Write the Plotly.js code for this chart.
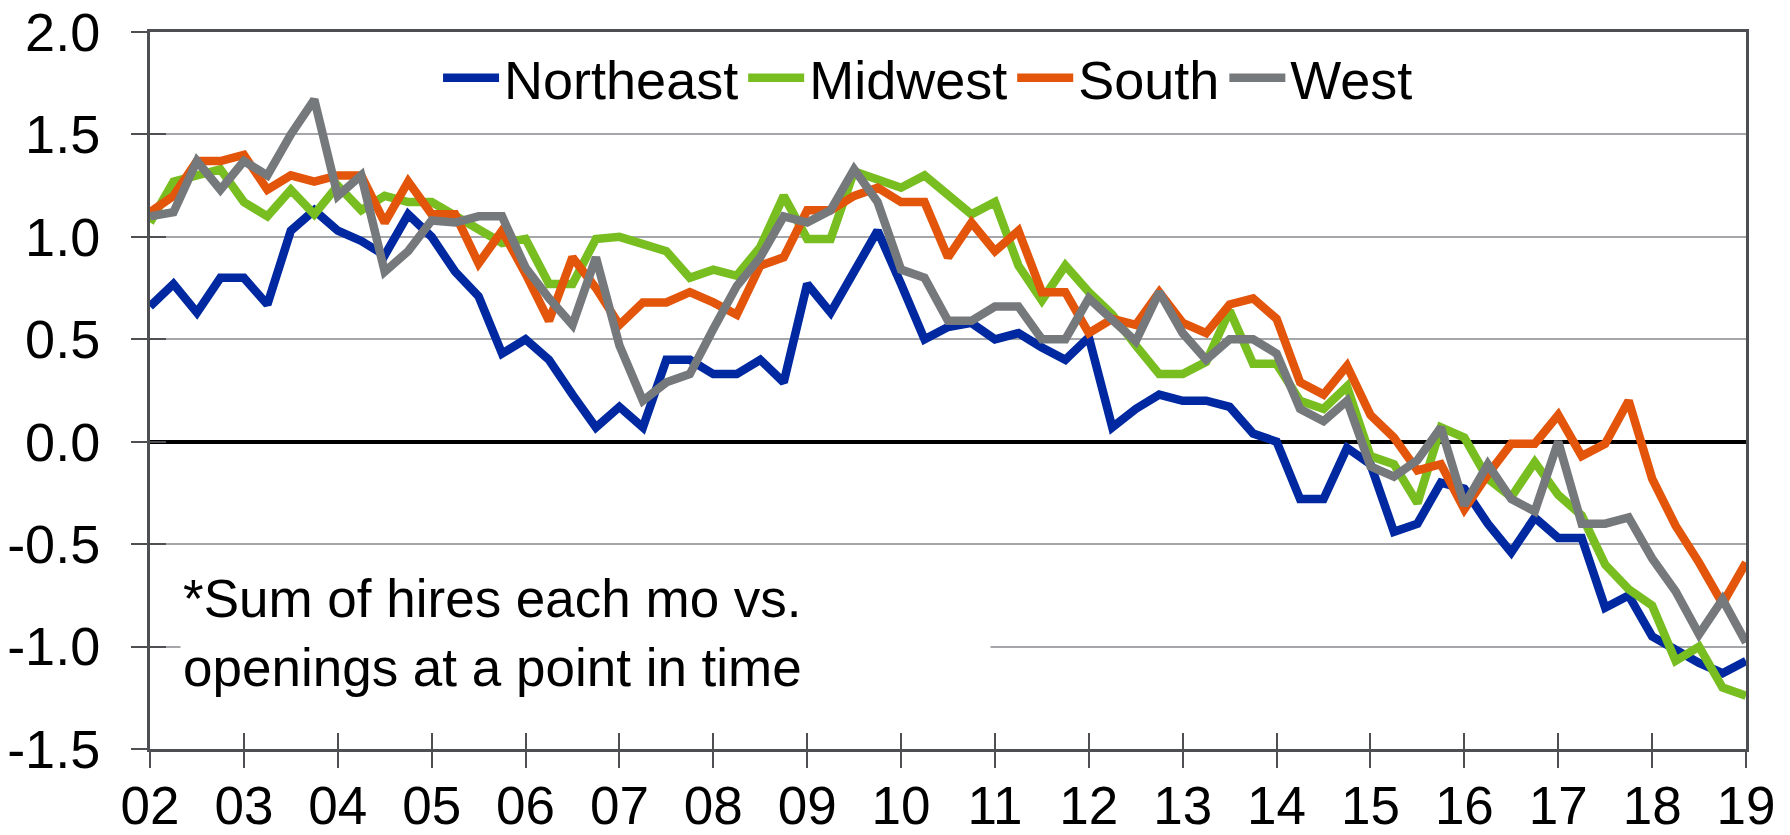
<!DOCTYPE html>
<html>
<head>
<meta charset="utf-8">
<script src="https://cdn.plot.ly/plotly-3.0.1.min.js"></script>
<style>
  html, body { margin: 0; padding: 0; background: #fff; }
  #chart { width: 1790px; height: 835px; }
</style>
</head>
<body>
<div id="chart"></div>
<script>
// Quarterly observations, 2002 Q1 through 2019 Q1
const startYear = 2002;
const endYear = 2019;

const yearTickLabels = ["02","03","04","05","06","07","08","09","10","11","12","13","14","15","16","17","18","19"];
const yTickValues = [2.0, 1.5, 1.0, 0.5, 0.0, -0.5, -1.0, -1.5];
const yTickLabels = ["2.0", "1.5", "1.0", "0.5", "0.0", "-0.5", "-1.0", "-1.5"];

const seriesNames = ["Northeast", "Midwest", "South", "West"];
const seriesColors = ["#0028A0", "#78BE21", "#E3550A", "#76797C"];

const northeast = [0.66,0.77,0.63,0.80,0.80,0.67,1.03,1.13,1.03,0.98,
                   0.91,1.11,1.00,0.83,0.71,0.43,0.50,0.40,0.23,0.07,
                   0.17,0.07,0.40,0.40,0.33,0.33,0.40,0.29,0.77,0.63,
                   0.83,1.03,0.77,0.50,0.56,0.58,0.50,0.53,0.46,0.40,
                   0.51,0.07,0.16,0.23,0.20,0.20,0.17,0.04,0.00,-0.28,
                   -0.28,-0.03,-0.11,-0.44,-0.40,-0.20,-0.23,-0.40,-0.54,-0.37,
                   -0.47,-0.47,-0.81,-0.75,-0.95,-1.02,-1.08,-1.13,-1.07];

const midwest = [1.07,1.27,1.30,1.33,1.17,1.10,1.23,1.11,1.25,1.13,
                 1.20,1.17,1.17,1.10,1.04,0.97,0.99,0.77,0.77,0.99,
                 1.00,0.97,0.93,0.80,0.84,0.81,0.95,1.20,0.99,0.99,
                 1.32,1.28,1.24,1.30,1.21,1.11,1.17,0.86,0.69,0.86,
                 0.73,0.62,0.47,0.33,0.33,0.39,0.64,0.38,0.38,0.20,
                 0.16,0.27,-0.07,-0.11,-0.30,0.07,0.02,-0.18,-0.27,-0.10,
                 -0.26,-0.36,-0.60,-0.72,-0.80,-1.07,-1.00,-1.20,-1.24];

const south = [1.12,1.20,1.37,1.37,1.40,1.23,1.30,1.27,1.30,1.30,
               1.07,1.27,1.11,1.11,0.87,1.03,0.82,0.59,0.90,0.75,
               0.57,0.68,0.68,0.73,0.68,0.62,0.86,0.90,1.13,1.13,
               1.20,1.24,1.17,1.17,0.90,1.07,0.93,1.03,0.73,0.73,
               0.53,0.60,0.57,0.73,0.58,0.53,0.67,0.70,0.60,0.29,
               0.23,0.37,0.13,0.02,-0.14,-0.11,-0.33,-0.16,-0.01,-0.01,
               0.13,-0.07,-0.01,0.20,-0.18,-0.41,-0.59,-0.79,-0.59];

const west = [1.10,1.12,1.37,1.23,1.37,1.30,1.50,1.67,1.20,1.30,
              0.83,0.93,1.08,1.07,1.10,1.10,0.85,0.70,0.57,0.90,
              0.47,0.20,0.29,0.33,0.55,0.76,0.90,1.10,1.07,1.13,
              1.33,1.17,0.84,0.80,0.59,0.59,0.66,0.66,0.50,0.50,
              0.70,0.60,0.49,0.73,0.53,0.40,0.50,0.50,0.43,0.16,
              0.10,0.20,-0.12,-0.17,-0.09,0.07,-0.31,-0.11,-0.28,-0.34,
              0.00,-0.40,-0.40,-0.37,-0.57,-0.73,-0.94,-0.77,-0.98];

const noteText = "*Sum of hires each mo vs.<br>openings at a point in time";

// time index (quarters) and yearly tick positions
const quarters = northeast.map((_, i) => startYear + i / 4);
const yearTickValues = yearTickLabels.map((_, i) => startYear + i);

const allSeries = [northeast, midwest, south, west];
const axisColor = "#4d4f53";
const fontFamily = "Liberation Sans, Arial, Helvetica, sans-serif";
const textSize = 53;
const tickSize = 54;

const traces = [{
  x: [startYear], y: [null], xaxis: "x2", yaxis: "y2",
  mode: "lines", showlegend: false, hoverinfo: "skip"
}];
allSeries.forEach((vals, k) => {
  traces.push({
    x: quarters, y: vals, name: seriesNames[k], type: "scatter", mode: "lines",
    line: { color: seriesColors[k], width: 8.5, shape: "linear" },
    hoverinfo: "skip"
  });
});

const layout = {
  width: 1790, height: 835,
  margin: { l: 150, r: 44, t: 32, b: 86, pad: 0 },
  paper_bgcolor: "#ffffff", plot_bgcolor: "#ffffff",
  font: { family: fontFamily, size: textSize, color: "#000000" },
  showlegend: true,
  hovermode: false,
  legend: {
    orientation: "h", x: 0.4875, xanchor: "center", y: 0.9356, yanchor: "middle",
    bgcolor: "rgba(0,0,0,0)", font: { size: 54, family: fontFamily, color: "#000" },
    traceorder: "normal", itemwidth: 56
  },
  xaxis: {
    range: [startYear, endYear], tickmode: "array",
    tickvals: yearTickValues, ticktext: yearTickLabels,
    ticks: "outside", ticklen: 16, tickwidth: 2, tickcolor: axisColor,
    ticklabelstandoff: -8,
    showline: true, linecolor: axisColor, linewidth: 3, mirror: true,
    showgrid: false, zeroline: false, fixedrange: true,
    tickfont: { size: 53, family: fontFamily, color: "#000" }
  },
  yaxis: {
    range: [-1.5, 2.0], tickmode: "array",
    tickvals: yTickValues, ticktext: yTickLabels,
    ticks: "outside", ticklen: 16, tickwidth: 2, tickcolor: axisColor,
    ticklabelstandoff: 20,
    showline: true, linecolor: axisColor, linewidth: 3, mirror: true,
    showgrid: true, gridcolor: "#a4a6a9", gridwidth: 2,
    zeroline: true, zerolinecolor: "#000000", zerolinewidth: 4,
    fixedrange: true,
    tickfont: { size: tickSize, family: fontFamily, color: "#000" }
  },
  xaxis2: {
    overlaying: "x", anchor: "y", side: "bottom",
    range: [startYear, endYear], tickmode: "array", tickvals: yearTickValues,
    ticks: "inside", ticklen: 16, tickwidth: 2, tickcolor: axisColor,
    showticklabels: false, showgrid: false, zeroline: false, showline: false
  },
  yaxis2: {
    overlaying: "y", anchor: "x", side: "left",
    range: [-1.5, 2.0], tickmode: "array", tickvals: yTickValues,
    ticks: "inside", ticklen: 16, tickwidth: 2, tickcolor: axisColor,
    showticklabels: false, showgrid: false, zeroline: false, showline: false
  },
  annotations: [{
    xref: "paper", yref: "paper", x: 0.0188, y: 0.1618,
    xanchor: "left", yanchor: "middle",
    text: noteText, showarrow: false, align: "left",
    width: 805, bgcolor: "#ffffff", borderpad: 2,
    font: { size: textSize, family: fontFamily, color: "#000" }
  }]
};

Plotly.newPlot("chart", traces, layout, { staticPlot: true, displayModeBar: false });
</script>
</body>
</html>
